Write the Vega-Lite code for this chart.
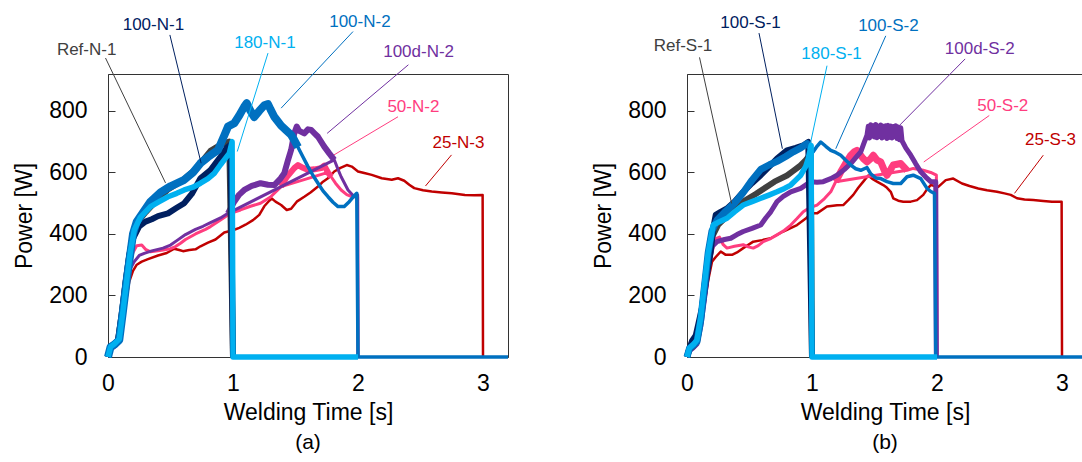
{
"$schema": "https://vega.github.io/schema/vega-lite/v6.json",
"background": "white",
"padding": {"left": 13, "top": 12, "right": 0, "bottom": 0},
"config": {
  "font": "Liberation Sans",
  "view": {"stroke": "#333333", "strokeWidth": 1},
  "axis": {"grid": false, "labelFont": "Liberation Sans", "labelFontSize": 23, "labelColor": "#000000", "titleFont": "Liberation Sans", "titleFontSize": 23, "titleFontWeight": "normal", "titleColor": "#000000", "domainColor": "#333333", "tickColor": "#333333"},
  "title": {"font": "Liberation Sans", "fontSize": 21, "fontWeight": "normal", "color": "#000000", "offset": 8},
  "line": {"strokeJoin": "round"}
},
"datasets": {
  "a_25": [{"t":0,"p":0},{"t":0.02,"p":22},{"t":0.05,"p":35},{"t":0.08,"p":42},{"t":0.11,"p":90},{"t":0.14,"p":170},{"t":0.17,"p":245},{"t":0.2,"p":280},{"t":0.23,"p":300},{"t":0.27,"p":310},{"t":0.32,"p":318},{"t":0.4,"p":330},{"t":0.47,"p":338},{"t":0.53,"p":352},{"t":0.57,"p":348},{"t":0.6,"p":344},{"t":0.65,"p":348},{"t":0.7,"p":350},{"t":0.74,"p":360},{"t":0.8,"p":372},{"t":0.86,"p":382},{"t":0.93,"p":405},{"t":1.0,"p":412},{"t":1.05,"p":420},{"t":1.1,"p":430},{"t":1.16,"p":445},{"t":1.21,"p":462},{"t":1.25,"p":490},{"t":1.29,"p":508},{"t":1.31,"p":515},{"t":1.34,"p":505},{"t":1.385,"p":494},{"t":1.43,"p":478},{"t":1.465,"p":482},{"t":1.51,"p":505},{"t":1.57,"p":521},{"t":1.62,"p":535},{"t":1.68,"p":554},{"t":1.72,"p":570},{"t":1.76,"p":581},{"t":1.81,"p":603},{"t":1.86,"p":615},{"t":1.91,"p":624},{"t":1.95,"p":619},{"t":2.0,"p":603},{"t":2.05,"p":598},{"t":2.11,"p":592},{"t":2.19,"p":581},{"t":2.27,"p":576},{"t":2.32,"p":581},{"t":2.37,"p":573},{"t":2.41,"p":560},{"t":2.45,"p":549},{"t":2.52,"p":542},{"t":2.59,"p":538},{"t":2.67,"p":535},{"t":2.75,"p":532},{"t":2.855,"p":527},{"t":2.93,"p":526},{"t":2.997,"p":527},{"t":3.0,"p":0}],
  "a_50": [{"t":0,"p":0},{"t":0.02,"p":25},{"t":0.05,"p":30},{"t":0.08,"p":45},{"t":0.11,"p":110},{"t":0.14,"p":200},{"t":0.17,"p":290},{"t":0.2,"p":340},{"t":0.23,"p":362},{"t":0.27,"p":364},{"t":0.3,"p":350},{"t":0.34,"p":342},{"t":0.4,"p":345},{"t":0.44,"p":348},{"t":0.5,"p":352},{"t":0.54,"p":359},{"t":0.58,"p":370},{"t":0.62,"p":382},{"t":0.7,"p":400},{"t":0.78,"p":415},{"t":0.82,"p":424},{"t":0.9,"p":445},{"t":0.98,"p":467},{"t":1.06,"p":478},{"t":1.14,"p":490},{"t":1.22,"p":500},{"t":1.3,"p":520},{"t":1.385,"p":554},{"t":1.43,"p":585},{"t":1.49,"p":614},{"t":1.52,"p":624},{"t":1.56,"p":615},{"t":1.6,"p":608},{"t":1.65,"p":610},{"t":1.705,"p":614},{"t":1.73,"p":622},{"t":1.76,"p":600},{"t":1.785,"p":586},{"t":1.82,"p":565},{"t":1.865,"p":543},{"t":1.91,"p":528},{"t":1.95,"p":521},{"t":1.997,"p":521},{"t":2.0,"p":0}],
  "a_100d": [{"t":0,"p":0},{"t":0.02,"p":25},{"t":0.05,"p":32},{"t":0.08,"p":45},{"t":0.11,"p":110},{"t":0.14,"p":200},{"t":0.17,"p":280},{"t":0.21,"p":310},{"t":0.25,"p":330},{"t":0.29,"p":337},{"t":0.35,"p":345},{"t":0.44,"p":354},{"t":0.5,"p":364},{"t":0.556,"p":380},{"t":0.62,"p":398},{"t":0.7,"p":415},{"t":0.76,"p":425},{"t":0.82,"p":437},{"t":0.9,"p":452},{"t":0.96,"p":467},{"t":1.01,"p":505},{"t":1.05,"p":528},{"t":1.09,"p":543},{"t":1.15,"p":556},{"t":1.22,"p":565},{"t":1.28,"p":560},{"t":1.33,"p":559},{"t":1.38,"p":580},{"t":1.41,"p":597},{"t":1.44,"p":640},{"t":1.465,"p":673},{"t":1.49,"p":727},{"t":1.51,"p":749},{"t":1.53,"p":735},{"t":1.57,"p":727},{"t":1.6,"p":740},{"t":1.625,"p":738},{"t":1.65,"p":728},{"t":1.68,"p":716},{"t":1.73,"p":684},{"t":1.77,"p":662},{"t":1.81,"p":641},{"t":1.84,"p":610},{"t":1.865,"p":586},{"t":1.92,"p":543},{"t":1.97,"p":521},{"t":1.997,"p":527},{"t":2.0,"p":0}],
  "a_ref": [{"t":0,"p":0},{"t":0.02,"p":30},{"t":0.05,"p":40},{"t":0.08,"p":55},{"t":0.11,"p":140},{"t":0.14,"p":240},{"t":0.17,"p":330},{"t":0.2,"p":400},{"t":0.25,"p":445},{"t":0.3,"p":470},{"t":0.38,"p":505},{"t":0.48,"p":545},{"t":0.6,"p":575},{"t":0.7,"p":610},{"t":0.82,"p":670},{"t":0.9,"p":690},{"t":0.97,"p":700},{"t":1.0,"p":0}],
  "a_100_1": [{"t":0,"p":0},{"t":0.02,"p":30},{"t":0.05,"p":40},{"t":0.08,"p":55},{"t":0.11,"p":140},{"t":0.14,"p":240},{"t":0.17,"p":330},{"t":0.2,"p":385},{"t":0.25,"p":425},{"t":0.3,"p":440},{"t":0.35,"p":448},{"t":0.4,"p":458},{"t":0.48,"p":467},{"t":0.55,"p":485},{"t":0.61,"p":500},{"t":0.67,"p":530},{"t":0.74,"p":581},{"t":0.82,"p":608},{"t":0.9,"p":651},{"t":0.95,"p":680},{"t":0.98,"p":690},{"t":1.0,"p":0}],
  "a_100_2": [{"t":0,"p":0},{"t":0.02,"p":32},{"t":0.05,"p":40},{"t":0.09,"p":55},{"t":0.12,"p":150},{"t":0.15,"p":250},{"t":0.18,"p":340},{"t":0.2,"p":400},{"t":0.23,"p":440},{"t":0.28,"p":470},{"t":0.34,"p":505},{"t":0.42,"p":535},{"t":0.5,"p":555},{"t":0.61,"p":576},{"t":0.68,"p":600},{"t":0.74,"p":630},{"t":0.8,"p":650},{"t":0.88,"p":673},{"t":0.93,"p":720},{"t":0.96,"p":749},{"t":1.01,"p":760},{"t":1.05,"p":785},{"t":1.09,"p":814},{"t":1.11,"p":825},{"t":1.14,"p":800},{"t":1.17,"p":780},{"t":1.21,"p":800},{"t":1.25,"p":818},{"t":1.28,"p":822},{"t":1.3,"p":805},{"t":1.33,"p":781},{"t":1.385,"p":752},{"t":1.43,"p":735},{"t":1.465,"p":722},{"t":1.49,"p":705},{"t":1.52,"p":682},{"t":1.56,"p":650},{"t":1.6,"p":619},{"t":1.64,"p":590},{"t":1.68,"p":565},{"t":1.72,"p":540},{"t":1.76,"p":521},{"t":1.8,"p":503},{"t":1.84,"p":489},{"t":1.89,"p":489},{"t":1.93,"p":505},{"t":1.96,"p":520},{"t":1.99,"p":532},{"t":2.0,"p":0},{"t":3.2,"p":0}],
  "a_180": [{"t":0,"p":0},{"t":0.02,"p":33},{"t":0.05,"p":42},{"t":0.09,"p":58},{"t":0.12,"p":150},{"t":0.15,"p":250},{"t":0.18,"p":345},{"t":0.21,"p":413},{"t":0.26,"p":455},{"t":0.34,"p":489},{"t":0.41,"p":505},{"t":0.48,"p":521},{"t":0.55,"p":532},{"t":0.61,"p":543},{"t":0.68,"p":552},{"t":0.74,"p":565},{"t":0.8,"p":580},{"t":0.85,"p":597},{"t":0.9,"p":625},{"t":0.93,"p":641},{"t":0.97,"p":662},{"t":0.993,"p":700},{"t":1.0,"p":0},{"t":2.0,"p":0}],
  "b_25": [{"t":0,"p":0},{"t":0.02,"p":22},{"t":0.05,"p":32},{"t":0.08,"p":42},{"t":0.11,"p":90},{"t":0.14,"p":170},{"t":0.17,"p":250},{"t":0.2,"p":310},{"t":0.23,"p":325},{"t":0.27,"p":343},{"t":0.31,"p":332},{"t":0.36,"p":332},{"t":0.4,"p":340},{"t":0.45,"p":354},{"t":0.53,"p":375},{"t":0.6,"p":380},{"t":0.67,"p":386},{"t":0.77,"p":408},{"t":0.88,"p":429},{"t":0.95,"p":450},{"t":0.99,"p":467},{"t":1.04,"p":467},{"t":1.12,"p":489},{"t":1.2,"p":493},{"t":1.25,"p":494},{"t":1.29,"p":510},{"t":1.33,"p":527},{"t":1.37,"p":550},{"t":1.41,"p":570},{"t":1.45,"p":590},{"t":1.48,"p":580},{"t":1.52,"p":570},{"t":1.57,"p":559},{"t":1.6,"p":550},{"t":1.63,"p":537},{"t":1.65,"p":516},{"t":1.69,"p":508},{"t":1.73,"p":505},{"t":1.79,"p":505},{"t":1.84,"p":510},{"t":1.89,"p":527},{"t":1.92,"p":545},{"t":1.95,"p":559},{"t":2.01,"p":553},{"t":2.07,"p":575},{"t":2.13,"p":580},{"t":2.2,"p":564},{"t":2.26,"p":556},{"t":2.33,"p":548},{"t":2.4,"p":542},{"t":2.48,"p":537},{"t":2.54,"p":532},{"t":2.59,"p":527},{"t":2.64,"p":516},{"t":2.7,"p":512},{"t":2.77,"p":510},{"t":2.85,"p":507},{"t":2.92,"p":505},{"t":2.997,"p":505},{"t":3.0,"p":0}],
  "b_50": [{"t":0,"p":0},{"t":0.02,"p":20},{"t":0.05,"p":28},{"t":0.08,"p":40},{"t":0.11,"p":100},{"t":0.14,"p":190},{"t":0.17,"p":280},{"t":0.2,"p":340},{"t":0.23,"p":385},{"t":0.26,"p":390},{"t":0.29,"p":365},{"t":0.32,"p":354},{"t":0.38,"p":360},{"t":0.45,"p":365},{"t":0.49,"p":358},{"t":0.53,"p":354},{"t":0.57,"p":362},{"t":0.61,"p":375},{"t":0.67,"p":385},{"t":0.72,"p":397},{"t":0.78,"p":412},{"t":0.83,"p":429},{"t":0.88,"p":450},{"t":0.93,"p":472},{"t":0.98,"p":485},{"t":1.04,"p":494},{"t":1.1,"p":515},{"t":1.15,"p":537},{"t":1.19,"p":570},{"t":1.23,"p":602},{"t":1.27,"p":630},{"t":1.31,"p":656},{"t":1.34,"p":668},{"t":1.36,"p":672},{"t":1.39,"p":655},{"t":1.41,"p":645},{"t":1.44,"p":634},{"t":1.47,"p":645},{"t":1.49,"p":656},{"t":1.52,"p":640},{"t":1.55,"p":634},{"t":1.58,"p":605},{"t":1.6,"p":591},{"t":1.63,"p":610},{"t":1.65,"p":624},{"t":1.71,"p":629},{"t":1.76,"p":607},{"t":1.81,"p":613},{"t":1.89,"p":607},{"t":1.95,"p":600},{"t":1.995,"p":591},{"t":2.0,"p":0}],
  "b_100d": [{"t":0,"p":0},{"t":0.02,"p":20},{"t":0.05,"p":30},{"t":0.08,"p":42},{"t":0.11,"p":100},{"t":0.14,"p":190},{"t":0.17,"p":290},{"t":0.2,"p":359},{"t":0.24,"p":375},{"t":0.3,"p":382},{"t":0.35,"p":386},{"t":0.4,"p":398},{"t":0.45,"p":408},{"t":0.52,"p":418},{"t":0.59,"p":429},{"t":0.63,"p":452},{"t":0.67,"p":472},{"t":0.72,"p":505},{"t":0.77,"p":522},{"t":0.83,"p":537},{"t":0.91,"p":548},{"t":0.99,"p":570},{"t":1.04,"p":568},{"t":1.09,"p":570},{"t":1.15,"p":580},{"t":1.2,"p":591},{"t":1.26,"p":610},{"t":1.31,"p":629},{"t":1.35,"p":648},{"t":1.39,"p":667},{"t":1.42,"p":700},{"t":1.44,"p":721},{"t":1.45,"p":750},{"t":1.46,"p":712},{"t":1.47,"p":755},{"t":1.48,"p":718},{"t":1.49,"p":752},{"t":1.5,"p":715},{"t":1.51,"p":756},{"t":1.52,"p":713},{"t":1.53,"p":750},{"t":1.54,"p":717},{"t":1.55,"p":754},{"t":1.56,"p":712},{"t":1.57,"p":750},{"t":1.58,"p":715},{"t":1.59,"p":752},{"t":1.6,"p":710},{"t":1.61,"p":753},{"t":1.62,"p":714},{"t":1.63,"p":751},{"t":1.64,"p":712},{"t":1.65,"p":749},{"t":1.66,"p":716},{"t":1.67,"p":752},{"t":1.68,"p":710},{"t":1.69,"p":748},{"t":1.7,"p":706},{"t":1.71,"p":745},{"t":1.72,"p":703},{"t":1.75,"p":680},{"t":1.79,"p":656},{"t":1.83,"p":628},{"t":1.87,"p":602},{"t":1.91,"p":585},{"t":1.95,"p":570},{"t":1.99,"p":570},{"t":1.995,"p":0}],
  "b_ref": [{"t":0,"p":0},{"t":0.02,"p":25},{"t":0.05,"p":35},{"t":0.08,"p":50},{"t":0.11,"p":120},{"t":0.14,"p":230},{"t":0.17,"p":330},{"t":0.2,"p":390},{"t":0.25,"p":430},{"t":0.3,"p":450},{"t":0.35,"p":470},{"t":0.45,"p":505},{"t":0.55,"p":530},{"t":0.7,"p":570},{"t":0.8,"p":590},{"t":0.85,"p":605},{"t":0.9,"p":620},{"t":0.95,"p":640},{"t":0.99,"p":660},{"t":1.0,"p":0}],
  "b_100_1": [{"t":0,"p":0},{"t":0.02,"p":30},{"t":0.04,"p":52},{"t":0.07,"p":70},{"t":0.09,"p":106},{"t":0.12,"p":160},{"t":0.16,"p":268},{"t":0.19,"p":343},{"t":0.21,"p":420},{"t":0.23,"p":462},{"t":0.27,"p":472},{"t":0.32,"p":483},{"t":0.38,"p":505},{"t":0.45,"p":537},{"t":0.52,"p":565},{"t":0.59,"p":591},{"t":0.66,"p":620},{"t":0.72,"p":645},{"t":0.8,"p":672},{"t":0.87,"p":680},{"t":0.93,"p":688},{"t":0.97,"p":699},{"t":1.0,"p":0}],
  "b_100_2": [{"t":0,"p":0},{"t":0.02,"p":28},{"t":0.05,"p":38},{"t":0.08,"p":50},{"t":0.11,"p":120},{"t":0.14,"p":230},{"t":0.17,"p":340},{"t":0.2,"p":410},{"t":0.24,"p":445},{"t":0.3,"p":470},{"t":0.38,"p":500},{"t":0.45,"p":535},{"t":0.52,"p":575},{"t":0.59,"p":610},{"t":0.66,"p":625},{"t":0.72,"p":636},{"t":0.79,"p":652},{"t":0.85,"p":667},{"t":0.91,"p":680},{"t":0.96,"p":694},{"t":0.99,"p":680},{"t":1.01,"p":667},{"t":1.04,"p":685},{"t":1.07,"p":699},{"t":1.11,"p":685},{"t":1.15,"p":672},{"t":1.19,"p":665},{"t":1.23,"p":656},{"t":1.27,"p":640},{"t":1.31,"p":624},{"t":1.35,"p":612},{"t":1.39,"p":607},{"t":1.44,"p":616},{"t":1.47,"p":595},{"t":1.51,"p":582},{"t":1.55,"p":580},{"t":1.6,"p":570},{"t":1.65,"p":564},{"t":1.71,"p":564},{"t":1.76,"p":586},{"t":1.81,"p":591},{"t":1.87,"p":580},{"t":1.92,"p":548},{"t":1.95,"p":538},{"t":1.98,"p":532},{"t":1.99,"p":0},{"t":3.168,"p":0}],
  "b_180": [{"t":0,"p":0},{"t":0.02,"p":30},{"t":0.05,"p":40},{"t":0.08,"p":55},{"t":0.11,"p":130},{"t":0.14,"p":240},{"t":0.17,"p":340},{"t":0.21,"p":429},{"t":0.26,"p":440},{"t":0.32,"p":451},{"t":0.38,"p":472},{"t":0.45,"p":494},{"t":0.52,"p":505},{"t":0.59,"p":516},{"t":0.66,"p":527},{"t":0.72,"p":537},{"t":0.78,"p":548},{"t":0.83,"p":559},{"t":0.87,"p":575},{"t":0.91,"p":591},{"t":0.95,"p":620},{"t":0.97,"p":645},{"t":0.993,"p":688},{"t":1.0,"p":0},{"t":2.0,"p":0}],
  "la": [
    {"g":"Ref","name":"Ref-N-1","t":-0.171,"p":998,"t1":-0.02,"p1":972,"t2":0.46,"p2":566},
    {"g":"100-1","name":"100-N-1","t":0.363,"p":1080,"t1":0.495,"p1":1047,"t2":0.745,"p2":630},
    {"g":"180-1","name":"180-N-1","t":1.255,"p":1022,"t1":1.28,"p1":988,"t2":1.034,"p2":668},
    {"g":"100-2","name":"100-N-2","t":2.015,"p":1090,"t1":1.96,"p1":1058,"t2":1.385,"p2":809},
    {"g":"100d-2","name":"100d-N-2","t":2.485,"p":993,"t1":2.403,"p1":950,"t2":1.753,"p2":727},
    {"g":"50-2","name":"50-N-2","t":2.443,"p":814,"t1":2.32,"p1":781,"t2":1.808,"p2":657},
    {"g":"25-3","name":"25-N-3","t":2.804,"p":697,"t1":2.748,"p1":657,"t2":2.54,"p2":556}
  ],
  "lb": [
    {"g":"Ref","name":"Ref-S-1","t":-0.032,"p":1012,"t1":0.1,"p1":974,"t2":0.357,"p2":499},
    {"g":"100-1","name":"100-S-1","t":0.508,"p":1085,"t1":0.576,"p1":1053,"t2":0.763,"p2":677},
    {"g":"180-1","name":"180-S-1","t":1.156,"p":985,"t1":1.12,"p1":947,"t2":0.984,"p2":688},
    {"g":"100-2","name":"100-S-2","t":1.611,"p":1077,"t1":1.59,"p1":1044,"t2":1.19,"p2":677},
    {"g":"100d-2","name":"100d-S-2","t":2.342,"p":1001,"t1":2.225,"p1":969,"t2":1.7,"p2":753},
    {"g":"50-2","name":"50-S-2","t":2.526,"p":816,"t1":2.418,"p1":785,"t2":1.894,"p2":634},
    {"g":"25-3","name":"25-S-3","t":2.908,"p":705,"t1":2.85,"p1":656,"t2":2.62,"p2":532}
  ]
},
"spacing": 179,
"bounds": "flush",
"hconcat": [
  {
    "width": 400, "height": 283,
    "title": {"text": "(a)", "orient": "bottom"},
    "encoding": {
      "x": {"field": "t", "type": "quantitative", "scale": {"domain": [0, 3.2], "nice": false, "zero": false}, "axis": {"title": "Welding Time [s]", "values": [0, 1, 2, 3], "ticks": false, "labelPadding": 15, "titlePadding": 6, "labelFlush": false}},
      "y": {"field": "p", "type": "quantitative", "scale": {"domain": [0, 920], "nice": false}, "axis": {"title": "Power [W]", "values": [0, 200, 400, 600, 800], "tickSize": -7, "labelPadding": 28, "titlePadding": 12}}
    },
    "layer": [
      {"data": {"name": "a_25"}, "mark": {"type": "line", "color": "#C00000", "strokeWidth": 2.5}},
      {"data": {"name": "a_50"}, "transform": [{"filter": "datum.t <= 1.4 || datum.t >= 1.76"}], "mark": {"type": "line", "color": "#FF3D7F", "strokeWidth": 3}},
      {"data": {"name": "a_50"}, "transform": [{"filter": "datum.t >= 1.385 && datum.t <= 1.785"}], "mark": {"type": "line", "color": "#FF3D7F", "strokeWidth": 6}},
      {"data": {"name": "a_100d"}, "transform": [{"filter": "datum.t <= 1.0 || datum.t >= 1.8"}], "mark": {"type": "line", "color": "#7030A0", "strokeWidth": 3}},
      {"data": {"name": "a_100d"}, "transform": [{"filter": "datum.t >= 0.96 && datum.t <= 1.81"}], "mark": {"type": "line", "color": "#7030A0", "strokeWidth": 6}},
      {"data": {"name": "a_ref"}, "mark": {"type": "line", "color": "#404040", "strokeWidth": 6}},
      {"data": {"name": "a_100_1"}, "mark": {"type": "line", "color": "#002060", "strokeWidth": 6}},
      {"data": {"name": "a_100_2"}, "transform": [{"filter": "datum.t <= 1.52"}], "mark": {"type": "line", "color": "#0070C0", "strokeWidth": 8}},
      {"data": {"name": "a_100_2"}, "transform": [{"filter": "datum.t >= 1.49"}], "mark": {"type": "line", "color": "#0070C0", "strokeWidth": 3.5}},
      {"data": {"name": "a_180"}, "mark": {"type": "line", "color": "#00B0F0", "strokeWidth": 5.5}},
      {"data": {"name": "la"}, "mark": {"type": "rule", "strokeWidth": 1},
       "encoding": {"x": {"field": "t1", "type": "quantitative"}, "y": {"field": "p1", "type": "quantitative"}, "x2": {"field": "t2"}, "y2": {"field": "p2"},
         "color": {"field": "g", "type": "nominal", "legend": null, "scale": {"domain": ["Ref","100-1","180-1","100-2","100d-2","50-2","25-3"], "range": ["#404040","#002060","#00B0F0","#0070C0","#7030A0","#FF3D7F","#C00000"]}}}},
      {"data": {"name": "la"}, "mark": {"type": "text", "fontSize": 17, "align": "center", "baseline": "middle"},
       "encoding": {"text": {"field": "name"},
         "color": {"field": "g", "type": "nominal", "legend": null, "scale": {"domain": ["Ref","100-1","180-1","100-2","100d-2","50-2","25-3"], "range": ["#404040","#002060","#00B0F0","#0070C0","#7030A0","#FF3D7F","#C00000"]}}}}
    ]
  },
  {
    "width": 396, "height": 283,
    "title": {"text": "(b)", "orient": "bottom"},
    "encoding": {
      "x": {"field": "t", "type": "quantitative", "scale": {"domain": [0, 3.168], "nice": false, "zero": false}, "axis": {"title": "Welding Time [s]", "values": [0, 1, 2, 3], "ticks": false, "labelPadding": 15, "titlePadding": 6, "labelFlush": false}},
      "y": {"field": "p", "type": "quantitative", "scale": {"domain": [0, 920], "nice": false}, "axis": {"title": "Power [W]", "values": [0, 200, 400, 600, 800], "tickSize": -7, "labelPadding": 28, "titlePadding": 12}}
    },
    "layer": [
      {"data": {"name": "b_25"}, "mark": {"type": "line", "color": "#C00000", "strokeWidth": 2.5}},
      {"data": {"name": "b_50"}, "transform": [{"filter": "datum.t <= 1.2 || datum.t >= 1.76"}], "mark": {"type": "line", "color": "#FF3D7F", "strokeWidth": 3}},
      {"data": {"name": "b_50"}, "transform": [{"filter": "datum.t >= 1.19 && datum.t <= 1.76"}], "mark": {"type": "line", "color": "#FF3D7F", "strokeWidth": 7}},
      {"data": {"name": "b_100d"}, "mark": {"type": "line", "color": "#7030A0", "strokeWidth": 5}},
      {"data": {"name": "b_ref"}, "mark": {"type": "line", "color": "#404040", "strokeWidth": 6}},
      {"data": {"name": "b_100_1"}, "mark": {"type": "line", "color": "#002060", "strokeWidth": 6}},
      {"data": {"name": "b_100_2"}, "transform": [{"filter": "datum.t <= 1.0"}], "mark": {"type": "line", "color": "#0070C0", "strokeWidth": 7}},
      {"data": {"name": "b_100_2"}, "transform": [{"filter": "datum.t >= 0.99"}], "mark": {"type": "line", "color": "#0070C0", "strokeWidth": 3.5}},
      {"data": {"name": "b_180"}, "mark": {"type": "line", "color": "#00B0F0", "strokeWidth": 5.5}},
      {"data": {"name": "lb"}, "mark": {"type": "rule", "strokeWidth": 1},
       "encoding": {"x": {"field": "t1", "type": "quantitative"}, "y": {"field": "p1", "type": "quantitative"}, "x2": {"field": "t2"}, "y2": {"field": "p2"},
         "color": {"field": "g", "type": "nominal", "legend": null, "scale": {"domain": ["Ref","100-1","180-1","100-2","100d-2","50-2","25-3"], "range": ["#404040","#002060","#00B0F0","#0070C0","#7030A0","#FF3D7F","#C00000"]}}}},
      {"data": {"name": "lb"}, "mark": {"type": "text", "fontSize": 17, "align": "center", "baseline": "middle"},
       "encoding": {"text": {"field": "name"},
         "color": {"field": "g", "type": "nominal", "legend": null, "scale": {"domain": ["Ref","100-1","180-1","100-2","100d-2","50-2","25-3"], "range": ["#404040","#002060","#00B0F0","#0070C0","#7030A0","#FF3D7F","#C00000"]}}}}
    ]
  }
]
}
